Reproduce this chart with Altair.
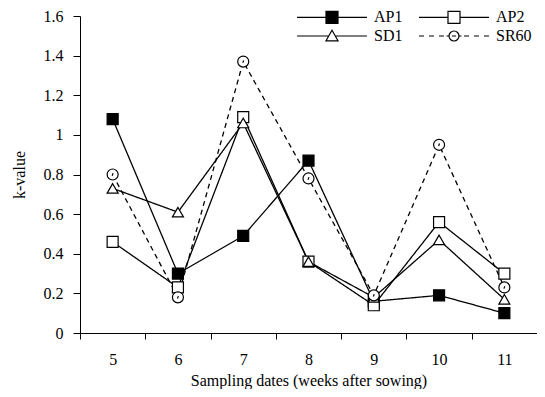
import altair as alt
import pandas as pd

weeks = [5, 6, 7, 8, 9, 10, 11]
series_names = ["AP1", "AP2", "SD1", "SR60"]
ap1 = [1.08, 0.30, 0.49, 0.87, 0.16, 0.19, 0.10]
ap2 = [0.46, 0.23, 1.09, 0.36, 0.14, 0.56, 0.30]
sd1 = [0.73, 0.61, 1.06, 0.36, 0.18, 0.47, 0.17]
sr60 = [0.80, 0.18, 1.37, 0.78, 0.19, 0.95, 0.23]
y_ticks = [0, 0.2, 0.4, 0.6, 0.8, 1.0, 1.2, 1.4, 1.6]

rows = []
for name, vals in zip(series_names, [ap1, ap2, sd1, sr60]):
    for w, v in zip(weeks, vals):
        rows.append({"week": w, "series": name, "k": v, "lg": name})
df = pd.DataFrame(rows)

FONT = "Liberation Serif"

# marker shapes for the data points
circ_dot = ("M-1,0A1,1 0 1,1 1,0A1,1 0 1,1 -1,0Z"
            "M-0.08,0.22L0.08,-0.22")
marker_shapes = ["square", "square", "triangle-up", circ_dot]
marker_fills = ["black", "white", "white", "white"]
marker_sizes = [121, 121, 150, 112]

# legend symbols: line + marker drawn as one path (unit = 6px)
sq_leg = "M-5.83,0H-1M1,0H5.83M-1,-1H1V1H-1Z"
tri_leg = "M-5.83,0H-0.54M0.54,0H5.83M0,-0.95L1,0.8H-1Z"
circ_leg = ("M-5.83,0H-5M-4.17,0H-3.33M-2.5,0H-1.67M-1.25,0H-0.83"
            "M0.83,0H1.25M1.67,0H2.5M3.33,0H4.17M5,0H5.83"
            "M-0.83,0A0.83,0.83 0 1,1 0.83,0A0.83,0.83 0 1,1 -0.83,0Z"
            "M-0.35,0H0.35")
legend_shapes = [sq_leg, sq_leg, tri_leg, circ_leg]

x_enc = alt.X(
    "week:O",
    scale=alt.Scale(type="band", paddingInner=0, paddingOuter=0),
    axis=alt.Axis(
        title="Sampling dates (weeks after sowing)",
        labelAngle=0,
        tickBand="extent",
        tickSize=6,
        labelPadding=12,
        titlePadding=5,
    ),
)
y_enc = alt.Y(
    "k:Q",
    scale=alt.Scale(domain=[0, 1.6], nice=False, zero=True),
    axis=alt.Axis(
        title="k-value",
        values=y_ticks,
        format="~g",
        grid=False,
        tickSize=7,
        labelPadding=10,
        titlePadding=16,
    ),
)

lines = alt.Chart(df).mark_line(color="black", strokeWidth=1.3).encode(
    x=x_enc,
    y=y_enc,
    detail="series:N",
    strokeDash=alt.StrokeDash(
        "series:N",
        scale=alt.Scale(domain=series_names,
                        range=[[1, 0], [1, 0], [1, 0], [5, 4]]),
        legend=None,
    ),
)

points = alt.Chart(df).mark_point(
    filled=True, stroke="black", strokeWidth=1.2, opacity=1
).encode(
    x=x_enc,
    y=y_enc,
    shape=alt.Shape("series:N",
                    scale=alt.Scale(domain=series_names, range=marker_shapes),
                    legend=None),
    fill=alt.Fill("series:N",
                  scale=alt.Scale(domain=series_names, range=marker_fills),
                  legend=None),
    size=alt.Size("series:N",
                  scale=alt.Scale(domain=series_names, range=marker_sizes),
                  legend=None),
)

leg = alt.Legend(
    title=None,
    orient="none",
    direction="horizontal",
    legendX=244,
    legendY=-7,
    columns=2,
    labelFont=FONT,
    labelFontSize=16,
    labelColor="black",
    symbolSize=144,
    symbolStrokeColor="black",
    symbolStrokeWidth=1.2,
    symbolOpacity=1,
    labelOffset=34,
    columnPadding=13,
    rowPadding=1,
    padding=0,
)

legend_layer = alt.Chart(df).transform_filter("false").mark_point(
    filled=True, strokeWidth=1.2, opacity=1
).encode(
    x=x_enc,
    y=y_enc,
    shape=alt.Shape("lg:N",
                    scale=alt.Scale(domain=series_names, range=legend_shapes),
                    legend=leg),
    fill=alt.Fill("lg:N",
                  scale=alt.Scale(domain=series_names, range=marker_fills),
                  legend=leg),
    stroke=alt.Stroke("lg:N",
                      scale=alt.Scale(domain=series_names,
                                      range=["black"] * 4),
                      legend=leg),
)

chart = alt.layer(lines, points, legend_layer).resolve_scale(
    shape="independent", fill="independent", stroke="independent"
).properties(
    width=457,
    height=317,
    padding={"left": 72, "top": 8, "right": 0, "bottom": 56},
    autosize=alt.AutoSizeParams(type="none"),
    background="white",
).configure_view(stroke=None).configure_axis(
    labelFont=FONT,
    titleFont=FONT,
    labelFontSize=16,
    titleFontSize=16,
    titleFontWeight="normal",
    labelColor="black",
    titleColor="black",
    domainColor="black",
    tickColor="black",
    domainWidth=1,
    tickWidth=1,
)

chart.save("out.html", embed_options={"renderer": "svg", "actions": False})
